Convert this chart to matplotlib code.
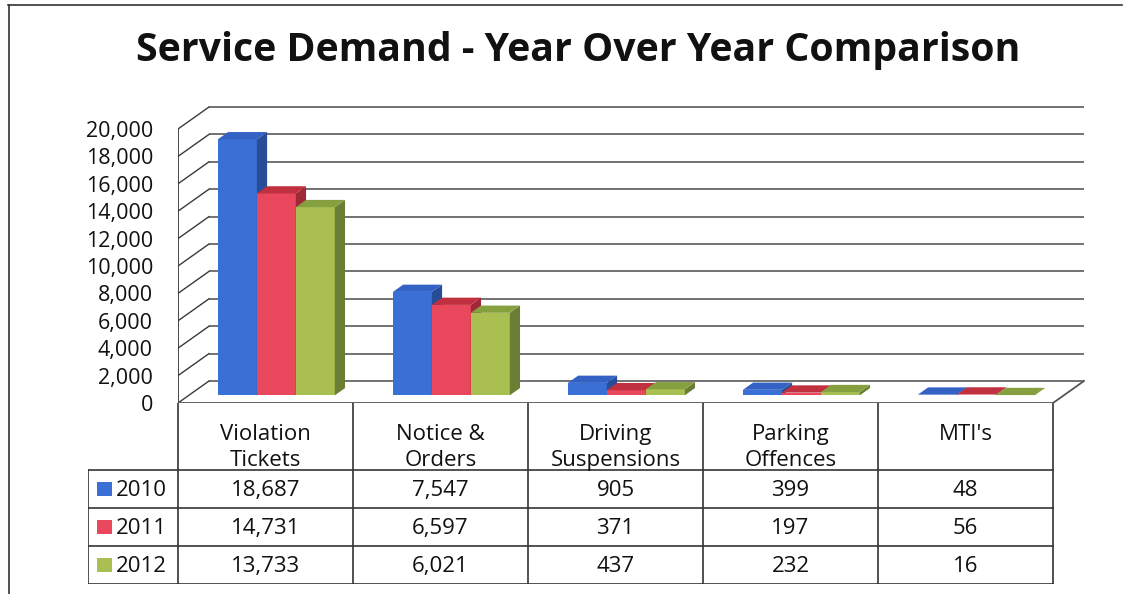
import matplotlib
matplotlib.use('Agg')
import matplotlib.pyplot as plt
from matplotlib.patches import Polygon, Rectangle
from matplotlib.lines import Line2D

# ---------------- data ----------------
categories = ["Violation\nTickets", "Notice &\nOrders", "Driving\nSuspensions",
              "Parking\nOffences", "MTI's"]
years = ["2010", "2011", "2012"]
v2010 = [18687, 7547, 905, 399, 48]
v2011 = [14731, 6597, 371, 197, 56]
v2012 = [13733, 6021, 437, 232, 16]
yticks = [0, 2000, 4000, 6000, 8000, 10000, 12000, 14000, 16000, 18000, 20000]
title = "Service Demand - Year Over Year Comparison"

plt.rcParams['font.family'] = ['Open Sans', 'DejaVu Sans']

W, H = 1146, 594
fig = plt.figure(figsize=(W / 100, H / 100), dpi=100)
fig.patch.set_facecolor('white')


def fx(px):
    return px / W


def fy(py):
    return 1 - py / H


# ---------------- main (pseudo-3D) axes ----------------
X0, X1 = 178, 1088
Y0, Y1 = 403, 104
catw = 175.0
pxper = 13.7 / 1000.0
ax = fig.add_axes([fx(X0), fy(Y0), (X1 - X0) / W, (Y0 - Y1) / H])
xmax = (X1 - X0) / catw
ymax = (Y0 - Y1) / pxper
ax.set_xlim(0, xmax)
ax.set_ylim(0, ymax)
ax.patch.set_alpha(0)
for sp in ax.spines.values():
    sp.set_visible(False)
ax.set_xticks([])

DX = 31 / catw
DY = 22 / pxper
ncat = len(categories)
wall_col = '#3a3a3a'

# back wall gridlines + side wall diagonals
for v in yticks:
    ax.plot([DX, ncat + DX], [v + DY, v + DY], color='#5a5a5a', lw=1.2, zorder=1,
            solid_capstyle='butt')
    ax.plot([0, DX], [v, v + DY], color=wall_col, lw=1.0, zorder=1)
# front vertical axis
ax.plot([0, 0], [0, yticks[-1]], color=wall_col, lw=1.3, zorder=1)
# floor
ax.plot([0, ncat], [0, 0], color='#555555', lw=1.3, zorder=1)
ax.plot([ncat, ncat + DX], [0, DY], color='#555555', lw=1.3, zorder=1)

ax.set_yticks(yticks)
ax.set_yticklabels([f"{v:,}" for v in yticks])
ax.tick_params(axis='y', length=0, pad=18, labelsize=15.5, colors='#111111')

series = [v2010, v2011, v2012]
front_colors = ['#3A6FD6', '#E8475C', '#A9BF52']
top_colors = ['#3462C4', '#C0303F', '#86A040']
side_colors = ['#274C98', '#9E2838', '#6A7F34']
gap = 0.166
bw = (1 - 2 * gap) / 3
t0, t1 = 0.35, 0.68
ddx = (t1 - t0) * DX
ddy = (t1 - t0) * DY
z = 3
for i in range(ncat):
    for j, s in enumerate(series):
        x0 = i + gap + j * bw + t0 * DX
        b = t0 * DY
        top = b + s[i]
        ax.bar(x0, s[i], width=bw, bottom=b, align='edge', color=front_colors[j],
               edgecolor='none', zorder=z)
        ax.add_patch(Polygon([(x0 + bw, b), (x0 + bw + ddx, b + ddy),
                              (x0 + bw + ddx, top + ddy), (x0 + bw, top)],
                             closed=True, facecolor=side_colors[j], edgecolor='none',
                             zorder=z))
        ax.add_patch(Polygon([(x0, top), (x0 + bw, top), (x0 + bw + ddx, top + ddy),
                              (x0 + ddx, top + ddy)],
                             closed=True, facecolor=top_colors[j], edgecolor='none',
                             zorder=z))
        z += 1

# ---------------- data table ----------------
T0, T1 = 403, 584
TL = 88
tax = fig.add_axes([fx(TL), fy(T1), (X1 - TL) / W, (T1 - T0) / H])
L = (TL - X0) / catw
tax.set_xlim(L, xmax)
hh = 67 / 38.0
total = hh + len(years)
tax.set_ylim(total, 0)
tax.axis('off')
lc = '#333333'
lw = 1.2
for k in range(ncat + 1):
    tax.plot([k, k], [0, total], color=lc, lw=lw)
tax.plot([L, L], [hh, total], color=lc, lw=lw)
for r in range(len(years) + 1):
    tax.plot([L, ncat], [hh + r, hh + r], color=lc, lw=lw)

fs = 16
for i, c in enumerate(categories):
    tax.text(i + 0.5, 0.56, c, ha='center', va='top', fontsize=fs,
             linespacing=1.3, color='#111111')
for r, s in enumerate(series):
    yc = hh + r + 0.5
    for i in range(ncat):
        tax.text(i + 0.5, yc + 0.03, f"{s[i]:,}", ha='center', va='center', fontsize=fs,
                 color='#111111')
    sx0 = (97 - X0) / catw
    sw = 15 / catw
    tax.add_patch(Rectangle((sx0, yc - 0.19), sw, 0.38, facecolor=front_colors[r],
                            edgecolor='none'))
    tax.text((116 - X0) / catw, yc + 0.03, years[r], ha='left', va='center',
             fontsize=fs, color='#111111')

# ---------------- title & frame ----------------
fig.text(fx(578), fy(50), title, ha='center', va='center', fontsize=28.3,
         fontweight='bold', color='#111111')
fig.add_artist(Line2D([fx(8), fx(1122)], [fy(5), fy(5)], color='#333333', lw=1.2))
fig.add_artist(Line2D([fx(9), fx(9)], [fy(5), fy(594)], color='#333333', lw=1.2))

fig.savefig('out.png', dpi=100, facecolor='white')
